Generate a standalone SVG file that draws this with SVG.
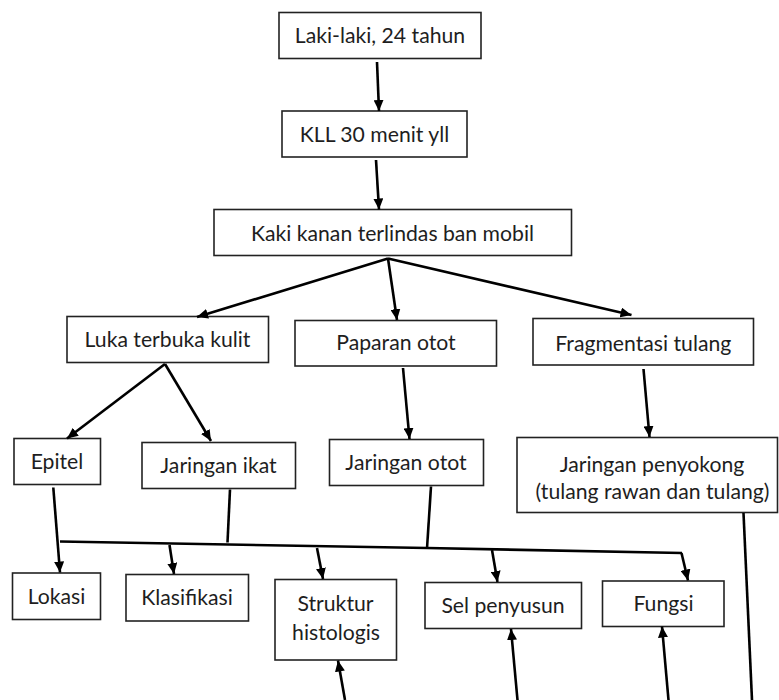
<svg xmlns="http://www.w3.org/2000/svg" width="779" height="700" viewBox="0 0 779 700">
<style>
.box rect{fill:#fff;stroke:#222;stroke-width:1.6}
.box text{font-family:Lato,"Liberation Sans",sans-serif;font-size:21.2px;fill:#1e1e1e;text-anchor:middle}
#connectors line,#connectors polyline{stroke:#000;stroke-width:2.6;fill:none}
.arr{marker-end:url(#ah)}
</style>
<defs>
<marker id="ah" markerUnits="userSpaceOnUse" markerWidth="11" markerHeight="10" refX="11" refY="5" orient="auto">
<path d="M0,0 L11,5 L0,10 z" fill="#000"/>
</marker>
</defs>
<rect width="779" height="700" fill="#fff"/>
<g id="n1" class="box"><rect x="279" y="12.5" width="202" height="46"/><text x="380" y="43">Laki-laki, 24 tahun</text></g>
<g id="n2" class="box"><rect x="282" y="111" width="185" height="46"/><text x="374.5" y="141.5">KLL 30 menit yll</text></g>
<g id="n3" class="box"><rect x="214" y="209.5" width="357.5" height="46"/><text x="392.5" y="240.5">Kaki kanan terlindas ban mobil</text></g>
<g id="n4" class="box"><rect x="67" y="316.5" width="201.5" height="46"/><text x="167.5" y="346.5">Luka terbuka kulit</text></g>
<g id="n5" class="box"><rect x="295" y="320.5" width="201.5" height="45.5"/><text x="396" y="350">Paparan otot</text></g>
<g id="n6" class="box"><rect x="533" y="318.5" width="220.5" height="46.5"/><text x="643.3" y="350.5">Fragmentasi tulang</text></g>
<g id="n7" class="box"><rect x="14" y="438.5" width="86.5" height="46"/><text x="57" y="468.5">Epitel</text></g>
<g id="n8" class="box"><rect x="142" y="442.5" width="153.5" height="46"/><text x="218.5" y="472.5">Jaringan ikat</text></g>
<g id="n9" class="box"><rect x="329.5" y="439.5" width="154" height="46"/><text x="406" y="470">Jaringan otot</text></g>
<g id="n10" class="box"><rect x="517" y="437.5" width="260.5" height="75"/><text x="652" y="471.5">Jaringan penyokong</text><text x="652.5" y="498.5">(tulang rawan dan tulang)</text></g>
<g id="n11" class="box"><rect x="12.5" y="573" width="88" height="46.5"/><text x="56.5" y="603.5">Lokasi</text></g>
<g id="n12" class="box"><rect x="126" y="574.5" width="122.5" height="46.5"/><text x="187" y="605">Klasifikasi</text></g>
<g id="n13" class="box"><rect x="275" y="579.5" width="121.5" height="80.5"/><text x="335.5" y="611">Struktur</text><text x="336" y="639.5">histologis</text></g>
<g id="n14" class="box"><rect x="425" y="582.5" width="156.5" height="46"/><text x="503" y="612.5">Sel penyusun</text></g>
<g id="n15" class="box"><rect x="602.5" y="581" width="121.5" height="45.5"/><text x="663.5" y="611">Fungsi</text></g>
<g id="connectors">
<line class="arr" x1="377" y1="62" x2="379" y2="111"/>
<line class="arr" x1="376" y1="160" x2="379" y2="209.5"/>
<line class="arr" x1="388" y1="258.5" x2="197" y2="317"/>
<line class="arr" x1="388" y1="258.5" x2="397" y2="320"/>
<line class="arr" x1="388" y1="258.5" x2="631.5" y2="315"/>
<line class="arr" x1="165" y1="364" x2="67" y2="438.5"/>
<line class="arr" x1="165" y1="364" x2="211" y2="441"/>
<line class="arr" x1="403" y1="368" x2="409.5" y2="439"/>
<line class="arr" x1="643.5" y1="369" x2="649.5" y2="437"/>
<line class="arr" x1="53.3" y1="487.5" x2="60" y2="572.5"/>
<line x1="230" y1="489.5" x2="227.5" y2="542.5"/>
<line x1="431" y1="486.5" x2="427" y2="548.5"/>
<polyline points="60,541.5 427,548 682,553"/>
<line class="arr" x1="169.5" y1="545" x2="174" y2="574"/>
<line class="arr" x1="317" y1="548" x2="323" y2="579"/>
<line class="arr" x1="492" y1="550" x2="497.5" y2="582"/>
<line class="arr" x1="681.5" y1="553" x2="688" y2="580.5"/>
<line class="arr" x1="345" y1="700" x2="338" y2="660.5"/>
<line class="arr" x1="517.5" y1="700" x2="511" y2="629"/>
<line class="arr" x1="668.5" y1="700" x2="662" y2="626.5"/>
<line x1="743.5" y1="513" x2="752" y2="700"/>
</g>
</svg>
